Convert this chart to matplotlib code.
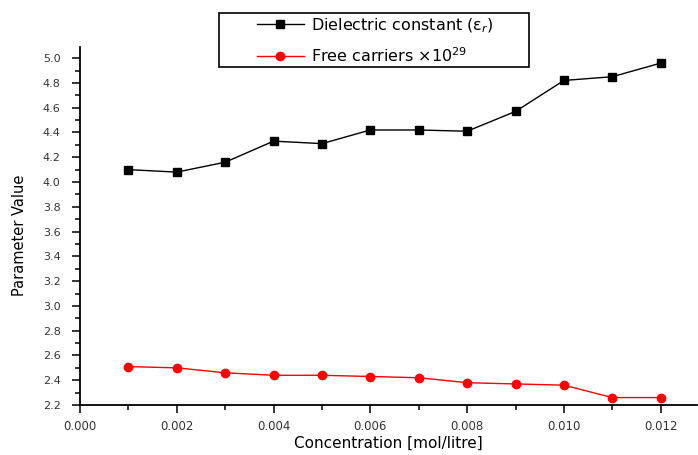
import matplotlib
matplotlib.use("Agg")
import matplotlib.pyplot as plt
from matplotlib.ticker import MultipleLocator, FormatStrFormatter
from matplotlib.patches import Rectangle

conc = [0.001, 0.002, 0.003, 0.004, 0.005, 0.006, 0.007, 0.008, 0.009, 0.010, 0.011, 0.012]
dielectric = [4.10, 4.08, 4.16, 4.33, 4.31, 4.42, 4.42, 4.41, 4.57, 4.82, 4.85, 4.96]
carriers = [2.51, 2.50, 2.46, 2.44, 2.44, 2.43, 2.42, 2.38, 2.37, 2.36, 2.26, 2.26]

plt.rcParams['font.family'] = ['DejaVu Sans']

W, H = 698, 455
fig = plt.figure(figsize=(W/100, H/100), dpi=100)
ax = fig.add_axes([80/W, 1-405/H, 617/W, 358/H])

l1, = ax.plot(conc, dielectric, color='black', lw=1, marker='s', ms=5.5,
              label='Dielectric constant (ε$_r$)')
l2, = ax.plot(conc, carriers, color='red', lw=1, marker='o', ms=6,
              label='Free carriers ×10$^{29}$')

ax.set_xlim(0, 0.01275)
ax.set_ylim(2.2, 5.09)
ax.xaxis.set_major_locator(MultipleLocator(0.002))
ax.xaxis.set_minor_locator(MultipleLocator(0.001))
ax.xaxis.set_major_formatter(FormatStrFormatter('%.3f'))
ax.yaxis.set_major_locator(MultipleLocator(0.2))
ax.yaxis.set_minor_locator(MultipleLocator(0.1))
ax.yaxis.set_major_formatter(FormatStrFormatter('%.1f'))

for s in ['top', 'right']:
    ax.spines[s].set_visible(False)
for s in ['left', 'bottom']:
    ax.spines[s].set_linewidth(1.3)

ax.tick_params(which='major', direction='out', length=6, width=1.1, colors='black')
ax.tick_params(which='minor', direction='out', length=3.5, width=1.1)
ax.tick_params(axis='x', which='major', labelsize=8.5, pad=5)
ax.tick_params(axis='y', which='major', labelsize=8, pad=8)
for lab in ax.get_xticklabels() + ax.get_yticklabels():
    lab.set_color('#333333')

ax.set_xlabel('Concentration [mol/litre]', fontsize=11, labelpad=2)
ax.set_ylabel('Parameter Value', fontsize=10.5)
ax.yaxis.set_label_coords(-0.086, 0.475)

# legend frame
fig.patches.append(Rectangle((219/W, 1-67/H), 310/W, 54/H, transform=fig.transFigure,
                             fill=True, facecolor='white', edgecolor='black', lw=1.2, zorder=5))
leg = fig.legend(handles=[l1, l2], loc='center', bbox_to_anchor=(375/W, 1-40.5/H),
                 fontsize=11.5, frameon=False, handlelength=2.95, handletextpad=0.45,
                 labelspacing=0.7, borderpad=0)
leg.set_zorder(6)

fig.savefig('out.png', dpi=100)
